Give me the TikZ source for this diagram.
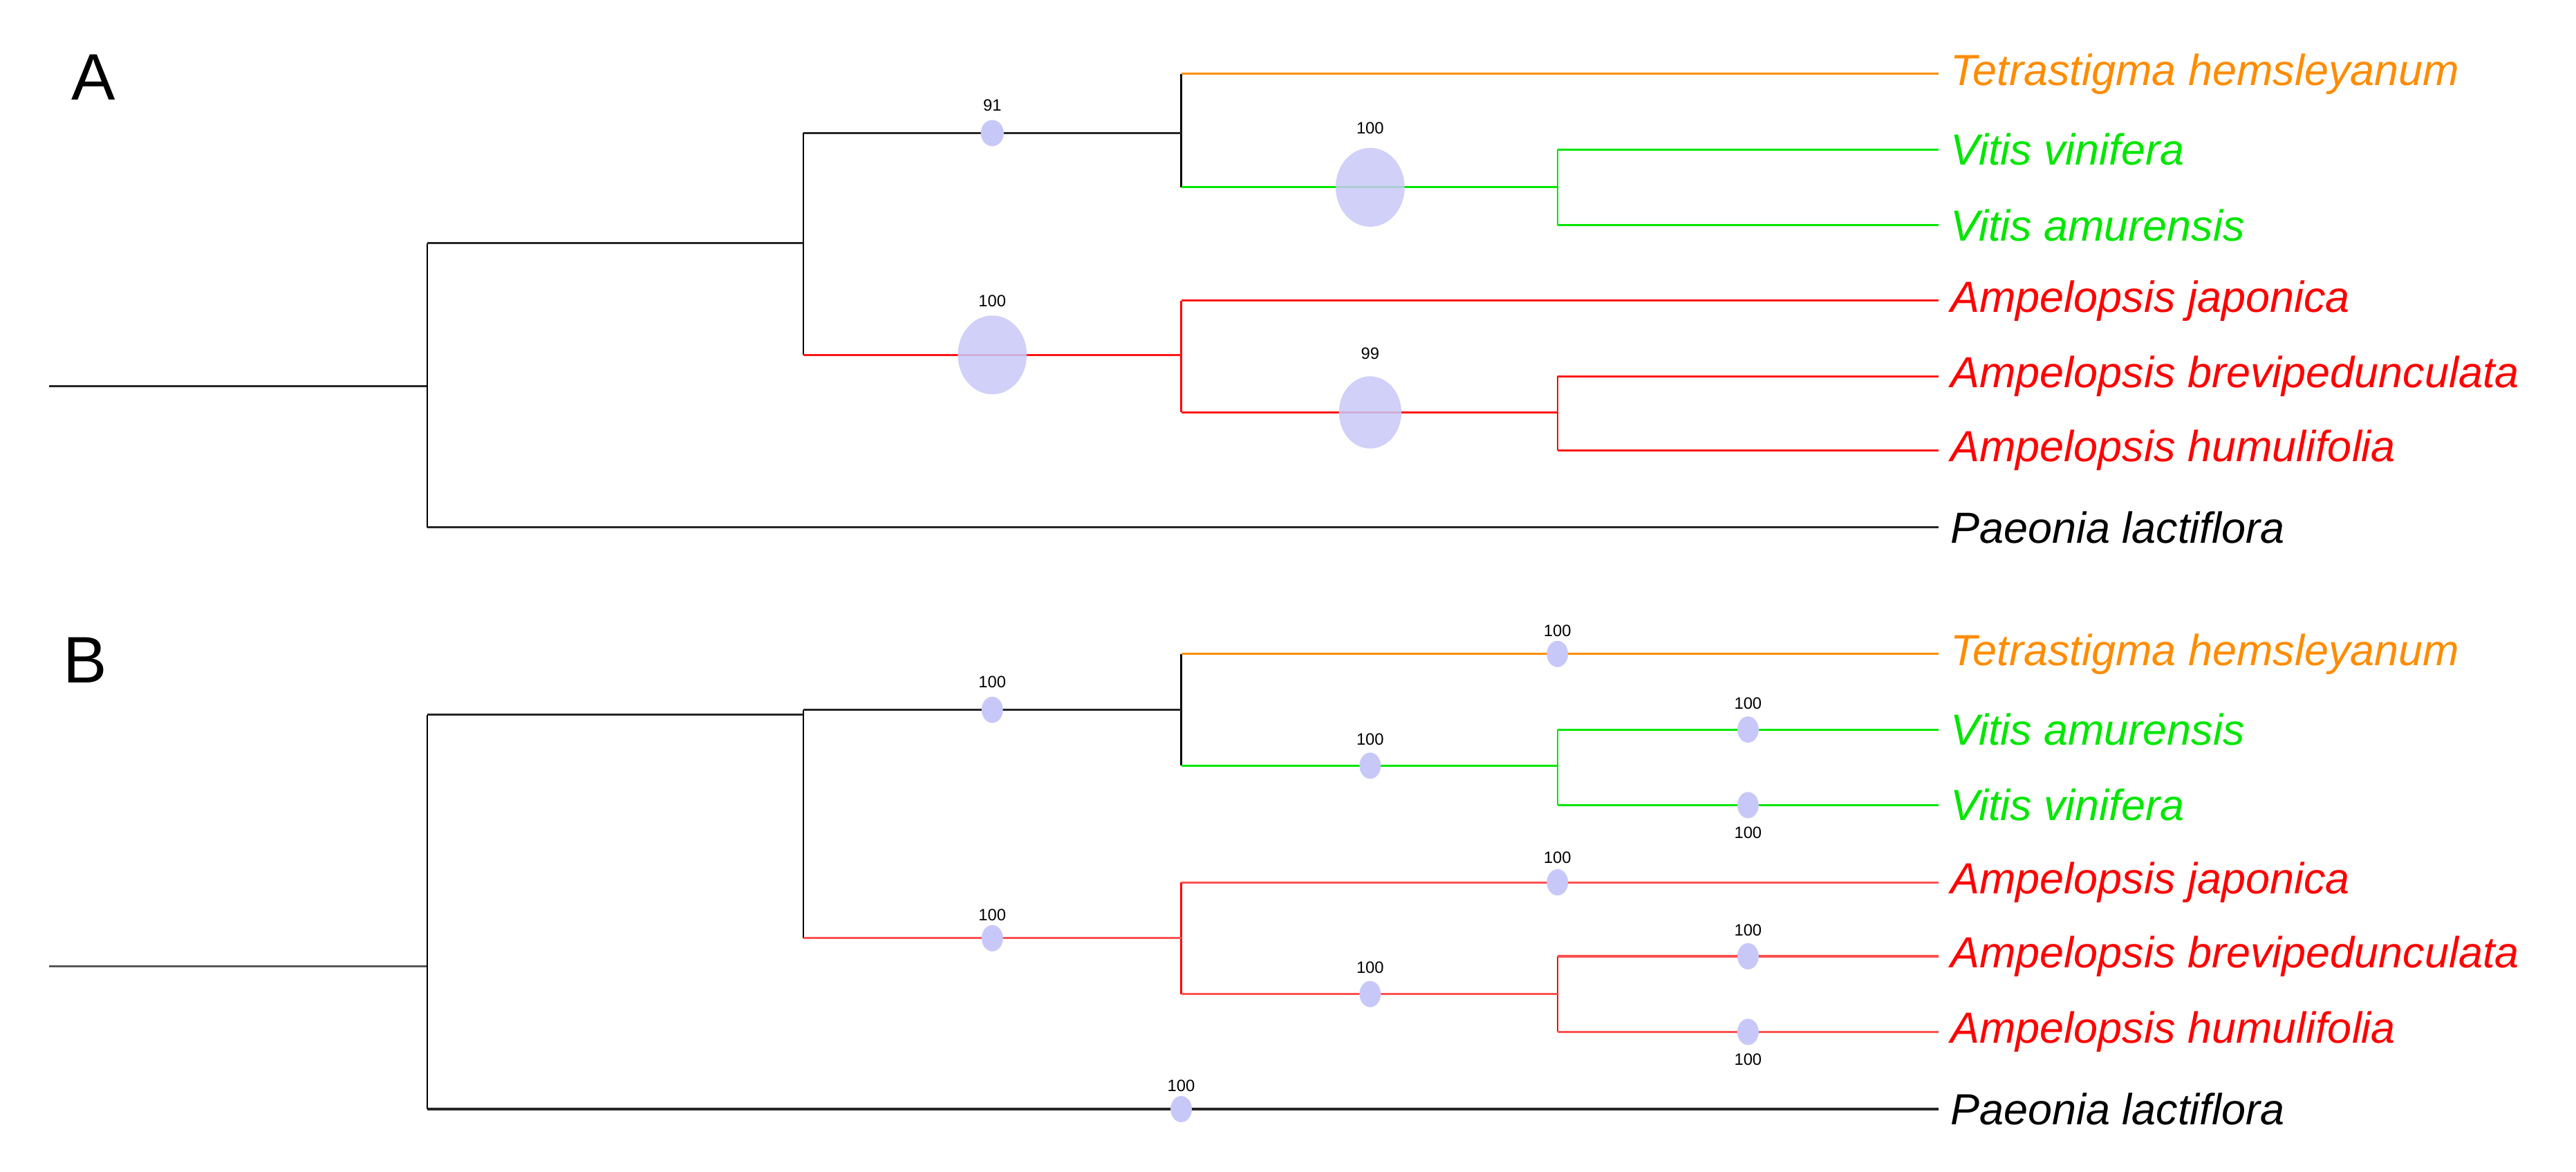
\documentclass[tikz,border=0pt]{standalone}
\usepackage{fontspec}
\setmainfont{Liberation Sans}
\usetikzlibrary{shapes.geometric}
\begin{document}
\begin{tikzpicture}[x=1pt,y=-1pt,
  br/.style={line width=1.3pt},
  vt/.style={line width=0.9pt},
  blk/.style={br,black!85},
  org/.style={br,color={rgb,255:red,255;green,140;blue,0}},
  grn/.style={br,color={rgb,255:red,0;green,230;blue,0}},
  rd/.style={br,color={rgb,255:red,255;green,20;blue,20}},
  rdl/.style={br,color={rgb,255:red,255;green,80;blue,80}},
  leaf/.style={anchor=west,inner sep=0pt,font=\fontsize{26.5}{26.5}\selectfont\itshape},
  bub/.style={ellipse,fill={rgb,255:red,200;green,200;blue,248},draw=none,inner sep=0pt},
  sup/.style={font=\fontsize{10}{10}\selectfont,inner sep=0pt},
  panel/.style={font=\fontsize{40}{40}\selectfont}]
\useasboundingbox (0,0) rectangle (1568,713);
% ---------- Panel A ----------
\node[panel] (LA) at (57,47) {A};
\coordinate (ar) at (30,235);
\coordinate (a0) at (260,235);
\coordinate (a1) at (489,148);
\coordinate (a2) at (719,81);
\coordinate (a3) at (948,114);
\coordinate (a4) at (719,216);
\coordinate (a5) at (948,251);
\node[leaf,color={rgb,255:red,255;green,140;blue,0}] (at1) at (1187,45) {Tetrastigma hemsleyanum};
\node[leaf,color={rgb,255:red,0;green,230;blue,0}] (at2) at (1187,91) {Vitis vinifera};
\node[leaf,color={rgb,255:red,0;green,230;blue,0}] (at3) at (1187,137) {Vitis amurensis};
\node[leaf,red] (at4) at (1187,183) {Ampelopsis japonica};
\node[leaf,red] (at5) at (1187,229) {Ampelopsis brevipedunculata};
\node[leaf,red] (at6) at (1187,274) {Ampelopsis humulifolia};
\node[leaf,black] (at7) at (1187,321) {Paeonia lactiflora};
\draw[blk] (ar) -- (a0);
% verticals (parent colour)
\draw[vt,black] (a0 |- a1) -- (a0 |- at7);
\draw[vt,black] (a1 |- a2) -- (a1 |- a4);
\draw[vt,black] (a2 |- at1) -- (a2 |- a3);
\draw[vt,color={rgb,255:red,0;green,230;blue,0}] (a3 |- at2) -- (a3 |- at3);
\draw[vt,red] (a4 |- at4) -- (a4 |- a5);
\draw[vt,red] (a5 |- at5) -- (a5 |- at6);
% horizontals
\draw[blk] (a0 |- a1) -- (a1);
\draw[blk] (a0 |- at7) -- ([xshift=-7pt]at7.west);
\draw[blk] (a1 |- a2) -- (a2);
\draw[rd] (a1 |- a4) -- (a4);
\draw[org] (a2 |- at1) -- ([xshift=-7pt]at1.west);
\draw[grn] (a2 |- a3) -- (a3);
\draw[grn] (a3 |- at2) -- ([xshift=-7pt]at2.west);
\draw[grn] (a3 |- at3) -- ([xshift=-7pt]at3.west);
\draw[rd] (a4 |- at4) -- ([xshift=-7pt]at4.west);
\draw[rd] (a4 |- a5) -- (a5);
\draw[rd] (a5 |- at5) -- ([xshift=-7pt]at5.west);
\draw[rd] (a5 |- at6) -- ([xshift=-7pt]at6.west);
\node[bub,minimum width=14pt,minimum height=16pt] (ab1) at (604,81) {};
\node[bub,minimum width=42pt,minimum height=48pt,opacity=0.85] (ab2) at (834,114) {};
\node[bub,minimum width=42pt,minimum height=48pt,opacity=0.85] (ab3) at (604,216) {};
\node[bub,minimum width=38pt,minimum height=44pt,opacity=0.85] (ab4) at (834,251) {};
\node[sup] (as1) at (604,64) {91};
\node[sup] (as2) at (834,78) {100};
\node[sup] (as3) at (604,183) {100};
\node[sup] (as4) at (834,215) {99};
% ---------- Panel B ----------
\node[panel] (LB) at (52,402) {B};
\coordinate (br) at (30,588);
\coordinate (b0) at (260,588);
\coordinate (b1) at (489,435);
\coordinate (b2) at (719,432);
\coordinate (b3) at (948,466);
\coordinate (b4) at (719,571);
\coordinate (b5) at (948,605);
\node[leaf,color={rgb,255:red,255;green,140;blue,0}] (bt1) at (1187,398) {Tetrastigma hemsleyanum};
\node[leaf,color={rgb,255:red,0;green,230;blue,0}] (bt2) at (1187,444) {Vitis amurensis};
\node[leaf,color={rgb,255:red,0;green,230;blue,0}] (bt3) at (1187,490) {Vitis vinifera};
\node[leaf,red] (bt4) at (1187,537) {Ampelopsis japonica};
\node[leaf,red] (bt5) at (1187,582) {Ampelopsis brevipedunculata};
\node[leaf,red] (bt6) at (1187,628) {Ampelopsis humulifolia};
\node[leaf,black] (bt7) at (1187,675) {Paeonia lactiflora};
\draw[blk,black!65] (br) -- (b0);
\draw[vt,black] (b0 |- b1) -- (b0 |- bt7);
\draw[vt,black] (b1 |- b2) -- (b1 |- b4);
\draw[vt,black] (b2 |- bt1) -- (b2 |- b3);
\draw[vt,color={rgb,255:red,0;green,230;blue,0}] (b3 |- bt2) -- (b3 |- bt3);
\draw[vt,red] (b4 |- bt4) -- (b4 |- b5);
\draw[vt,red] (b5 |- bt5) -- (b5 |- bt6);
\draw[blk] (b0 |- b1) -- (b1);
\draw[blk] (b0 |- bt7) -- ([xshift=-7pt]bt7.west);
\draw[blk] (b1 |- b2) -- (b2);
\draw[rdl] (b1 |- b4) -- (b4);
\draw[org] (b2 |- bt1) -- ([xshift=-7pt]bt1.west);
\draw[grn] (b2 |- b3) -- (b3);
\draw[grn] (b3 |- bt2) -- ([xshift=-7pt]bt2.west);
\draw[grn] (b3 |- bt3) -- ([xshift=-7pt]bt3.west);
\draw[rdl] (b4 |- bt4) -- ([xshift=-7pt]bt4.west);
\draw[rdl] (b4 |- b5) -- (b5);
\draw[rdl] (b5 |- bt5) -- ([xshift=-7pt]bt5.west);
\draw[rdl] (b5 |- bt6) -- ([xshift=-7pt]bt6.west);
\foreach \n/\x/\y/\ly in {1/948/398/384, 2/604/432/415, 3/834/466/450, 4/1064/444/428,
  5/1064/490/507, 6/948/537/522, 7/604/571/557, 8/834/605/589, 9/1064/582/566,
  10/1064/628/645, 11/719/675/661}{
  \node[bub,minimum width=13pt,minimum height=16pt] (bb\n) at (\x,\y) {};
  \node[sup] (bs\n) at (\x,\ly) {100};
}
\end{tikzpicture}
\end{document}
